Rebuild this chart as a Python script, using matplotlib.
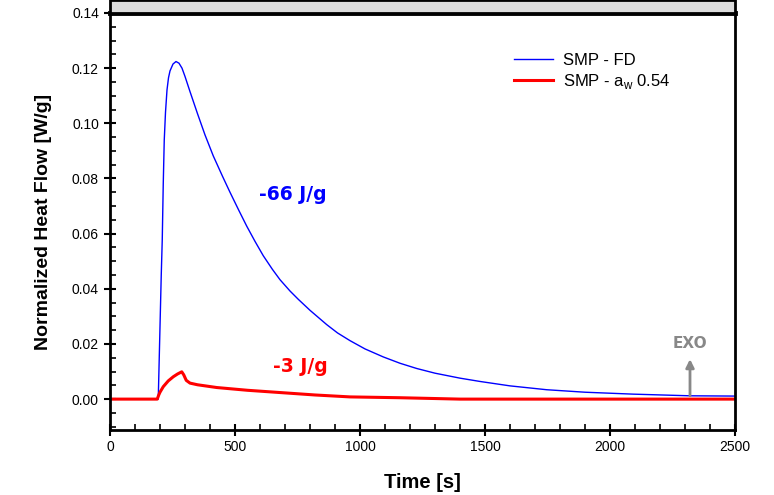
import matplotlib
matplotlib.use("Agg")
import matplotlib.pyplot as plt
from matplotlib.patches import Rectangle
from matplotlib.ticker import MultipleLocator, FormatStrFormatter

plt.rcParams['font.family'] = ['Liberation Sans', 'DejaVu Sans']

# Heat flow of freeze-dried SMP (blue) and SMP at a_w 0.54 (red)
time_fd = [0, 190, 193, 197, 201, 205, 209, 213, 217, 222, 228, 234, 240, 252,
           264, 276, 288, 300, 320, 350, 380, 413, 450, 480, 515, 547, 580,
           613, 650, 680, 720, 753, 800, 867, 910, 960, 1020, 1093, 1160,
           1227, 1300, 1400, 1480, 1600, 1747, 1900, 2093, 2320, 2500]
flow_fd = [0.0, 0.0, 0.0, 0.015, 0.030, 0.045, 0.0577, 0.078, 0.0939, 0.104,
           0.1121, 0.1165, 0.1190, 0.1215, 0.1224, 0.1218, 0.1200, 0.1170,
           0.1115, 0.1035, 0.0958, 0.0882, 0.0808, 0.0750, 0.0685, 0.0627,
           0.0572, 0.0520, 0.0470, 0.0433, 0.0392, 0.0362, 0.0322, 0.0270,
           0.0240, 0.0212, 0.0182, 0.0153, 0.0130, 0.0111, 0.0094, 0.0076,
           0.0064, 0.0048, 0.0034, 0.0025, 0.0018, 0.0012, 0.0011]

time_aw = [0, 189, 195, 200, 213, 233, 253, 270, 287, 295, 305, 320, 350, 427,
           550, 693, 820, 960, 1160, 1400, 2500]
flow_aw = [0.0, 0.0, 0.0015, 0.0025, 0.0045, 0.0066, 0.0081, 0.0091, 0.0099,
           0.0088, 0.0068, 0.0058, 0.0052, 0.0042, 0.0032, 0.0023, 0.0015,
           0.0008, 0.0005, 0.0, 0.0]

x_ticks = [0, 500, 1000, 1500, 2000, 2500]
y_ticks = [0.00, 0.02, 0.04, 0.06, 0.08, 0.10, 0.12, 0.14]

fig = plt.figure(figsize=(7.74, 4.95), dpi=100)
ax = fig.add_axes([110 / 774, 65 / 495, 625 / 774, 417 / 495])

# grey header band above the plot area
fig.patches.append(Rectangle((110 / 774, 482 / 495), 625 / 774, 13 / 495,
                             transform=fig.transFigure, facecolor='#dcdcdc',
                             edgecolor='black', linewidth=2, zorder=0))

ax.plot(time_fd, flow_fd, color='#0000ff', linewidth=1.0, label='SMP - FD')
ax.plot(time_aw, flow_aw, color='#ff0000', linewidth=2.2,
        label='SMP - a$_\\mathregular{w}$ 0.54')

ax.set_xlim(0, 2500)
ax.set_ylim(-0.0112, 0.14)
ax.set_xticks(x_ticks)
ax.set_yticks(y_ticks)
ax.yaxis.set_major_formatter(FormatStrFormatter('%.2f'))
ax.xaxis.set_minor_locator(MultipleLocator(100))
ax.yaxis.set_minor_locator(MultipleLocator(0.005))
ax.tick_params(which='major', direction='inout', length=8, width=1.5,
               labelsize=10, colors='black', pad=4)
ax.tick_params(which='minor', direction='in', length=4, width=1.2)
ax.tick_params(axis='x', pad=3)

for side in ['left', 'bottom', 'right']:
    ax.spines[side].set_linewidth(2)
ax.spines['top'].set_linewidth(3.5)

ax.set_xlabel('Time [s]', fontsize=14.5, fontweight='bold', labelpad=14)
ax.set_ylabel('Normalized Heat Flow [W/g]', fontsize=14, fontweight='bold',
              labelpad=14)

ax.text(732, 0.0743, '-66 J/g', color='#0000ff', fontsize=13.5,
        fontweight='bold', ha='center', va='center', family='DejaVu Sans')
ax.text(760, 0.0117, '-3 J/g', color='#ff0000', fontsize=13.5,
        fontweight='bold', ha='center', va='center', family='DejaVu Sans')

ax.annotate('', xy=(2320, 0.0145), xytext=(2320, 0.0012),
            arrowprops=dict(arrowstyle='-|>', color='#888888', lw=2,
                            mutation_scale=12, shrinkA=0, shrinkB=0))
ax.text(2320, 0.0202, 'EXO', color='#888888', fontsize=11,
        fontweight='bold', ha='center', va='center', family='DejaVu Sans')

ax.legend(loc='upper left', bbox_to_anchor=(0.6464, 0.905), frameon=False,
          fontsize=12, handlelength=2.35, handletextpad=0.6,
          labelspacing=0.25, borderpad=0, borderaxespad=0)

fig.savefig('out.png', dpi=100)
